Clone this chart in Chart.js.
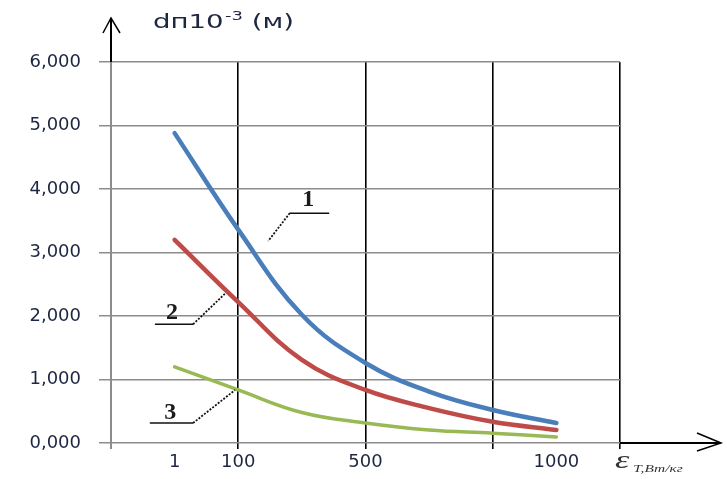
<!DOCTYPE html>
<html>
<head>
<meta charset="utf-8">
<script src="https://cdn.jsdelivr.net/npm/chart.js@4.4.1/dist/chart.umd.min.js"></script>
<style>
  html, body { margin: 0; padding: 0; background: #fff; }
  #wrap { width: 727px; height: 479px; }
</style>
</head>
<body>
<div id="wrap"><canvas id="chart" width="727" height="479"></canvas></div>
<script>
// позиции по оси X (условные): 1, 100, 500, 1000
const xPoints = [1, 2, 3, 4, 5, 6, 7];
const xTickValues = [0, 1, 2, 4, 6, 7, 8];
const xTickLabels = { 1: '1', 2: '100', 4: '500', 7: '1000' };

// dп·10⁻³ (м)
const curve1 = [4.88, 3.36, 2.02, 1.26, 0.81, 0.52, 0.315];
const curve2 = [3.20, 2.22, 1.31, 0.835, 0.55, 0.335, 0.205];
const curve3 = [1.20, 0.835, 0.48, 0.315, 0.205, 0.155, 0.095];

const seriesNames = ['1', '2', '3'];
const seriesColors = ['#4a7ebb', '#be4b48', '#98b954'];

// выноски: подпись, полка, конец пунктира (в единицах осей)
const callouts = [
    { text: '1', label: [3.1, 3.83], shelf: [2.81, 3.43, 3.62], tip: [2.47, 3.18] },
    { text: '2', label: [0.96, 2.05], shelf: [0.69, 1.29, 1.87], tip: [1.79, 2.35] },
    { text: '3', label: [0.93, 0.47], shelf: [0.61, 1.29, 0.315], tip: [1.95, 0.835] }
];

const toXY = arr => arr.map((v, i) => ({ x: xPoints[i], y: v }));
const textColor = '#1d2642';

const extrasPlugin = {
    id: 'extras',
    afterDraw(chart) {
        const ctx = chart.ctx;
        const xs = chart.scales.x, ys = chart.scales.y;
        const left = chart.chartArea.left, right = chart.chartArea.right;
        const top = chart.chartArea.top, bottom = chart.chartArea.bottom;
        ctx.save();

        // стрелка оси Y
        ctx.strokeStyle = '#000';
        ctx.lineWidth = 2;
        ctx.beginPath();
        ctx.moveTo(left, top);
        ctx.lineTo(left, top - 44);
        ctx.stroke();
        ctx.lineWidth = 1.5;
        ctx.beginPath();
        ctx.moveTo(left - 8, top - 29);
        ctx.lineTo(left, top - 44);
        ctx.lineTo(left + 9, top - 29);
        ctx.stroke();

        // стрелка оси X
        ctx.lineWidth = 2;
        ctx.beginPath();
        ctx.moveTo(right, bottom);
        ctx.lineTo(right + 101, bottom);
        ctx.stroke();
        ctx.lineWidth = 1.5;
        ctx.beginPath();
        ctx.moveTo(right + 77, bottom - 10);
        ctx.lineTo(right + 101, bottom);
        ctx.lineTo(right + 77, bottom + 8);
        ctx.stroke();

        // заголовок оси Y
        ctx.fillStyle = textColor;
        ctx.textBaseline = 'middle';
        ctx.textAlign = 'left';
        ctx.save();
        ctx.translate(left + 42, top - 39);
        ctx.scale(1.38, 1);
        ctx.font = '20px "DejaVu Sans"';
        ctx.fillText('dп10', 0, 0);
        const w = ctx.measureText('dп10').width;
        ctx.font = '13px "DejaVu Sans"';
        ctx.fillText('-3', w + 1, -6);
        const w2 = ctx.measureText('-3').width;
        ctx.font = '20px "DejaVu Sans"';
        ctx.fillText(' (м)', w + w2 + 1, 0);
        ctx.restore();

        // подпись оси X
        ctx.fillStyle = '#333';
        ctx.save();
        ctx.translate(right - 5, bottom + 20);
        ctx.scale(1.4, 1);
        ctx.font = 'italic 26px "Liberation Serif"';
        ctx.fillText('ε', 0, -2);
        ctx.font = 'italic 11px "Liberation Serif"';
        ctx.fillText('T,Вт/кг', 13, 6);
        ctx.restore();

        // выноски
        callouts.forEach(c => {
            const sx1 = xs.getPixelForValue(c.shelf[0]);
            const sx2 = xs.getPixelForValue(c.shelf[1]);
            const sy = ys.getPixelForValue(c.shelf[2]);
            const tx = xs.getPixelForValue(c.tip[0]);
            const ty = ys.getPixelForValue(c.tip[1]);
            const joinX = c.tip[0] > c.shelf[1] ? sx2 : sx1;
            ctx.strokeStyle = '#111';
            ctx.lineWidth = 1.5;
            ctx.setLineDash([]);
            ctx.beginPath();
            ctx.moveTo(sx1, sy);
            ctx.lineTo(sx2, sy);
            ctx.stroke();
            ctx.lineWidth = 1.8;
            ctx.setLineDash([2, 1.5]);
            ctx.beginPath();
            ctx.moveTo(joinX, sy);
            ctx.lineTo(tx, ty);
            ctx.stroke();
            ctx.setLineDash([]);
            ctx.fillStyle = '#1a1a1a';
            ctx.textAlign = 'center';
            ctx.font = 'bold 24px "Liberation Serif"';
            ctx.fillText(c.text, xs.getPixelForValue(c.label[0]), ys.getPixelForValue(c.label[1]));
        });
        ctx.restore();
    }
};

new Chart(document.getElementById('chart'), {
    type: 'line',
    data: {
        datasets: [curve1, curve2, curve3].map((d, i) => ({
            label: seriesNames[i],
            data: toXY(d),
            borderColor: seriesColors[i],
            borderWidth: i === 2 ? 3.5 : 4.5,
            pointRadius: 0,
            tension: 0.4,
            borderCapStyle: 'round',
            fill: false
        }))
    },
    options: {
        responsive: false,
        animation: false,
        layout: { padding: { top: 62, right: 107, left: 0, bottom: 0 } },
        plugins: { legend: { display: false }, tooltip: { enabled: false } },
        scales: {
            x: {
                type: 'linear',
                min: 0,
                max: 8,
                afterFit: s => { s.height = 36; },
                afterBuildTicks: s => { s.ticks = xTickValues.map(v => ({ value: v })); },
                border: { display: false },
                grid: {
                    color: c => c.tick.value === 0 ? '#8c8c8c' : (c.tick.value === 1 || c.tick.value === 7 ? 'rgba(0,0,0,0)' : '#000'),
                    lineWidth: c => c.tick.value === 0 ? 2 : 1.6,
                    tickLength: 6
                },
                ticks: {
                    autoSkip: false,
                    maxRotation: 0,
                    padding: 3,
                    color: textColor,
                    font: { family: '"DejaVu Sans"', size: 18 },
                    callback: v => xTickLabels[v] || ''
                }
            },
            y: {
                min: 0,
                max: 6,
                afterFit: s => { s.width = 111; },
                border: { display: false },
                grid: { color: '#8c8c8c', lineWidth: 1.5, tickLength: 12 },
                ticks: {
                    stepSize: 1,
                    padding: 18,
                    color: textColor,
                    font: { family: '"DejaVu Sans"', size: 18 },
                    callback: v => v.toFixed(3).replace('.', ',')
                }
            }
        }
    },
    plugins: [extrasPlugin]
});
</script>
</body>
</html>
